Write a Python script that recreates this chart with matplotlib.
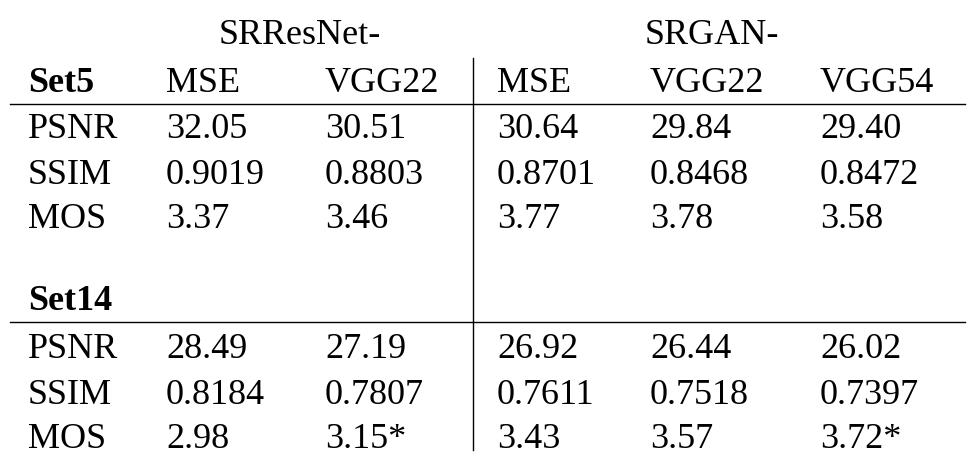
import matplotlib
matplotlib.use("Agg")
import matplotlib.pyplot as plt

groups = ["SRResNet-", "SRGAN-"]
columns = ["MSE", "VGG22", "MSE", "VGG22", "VGG54"]
metrics = ["PSNR", "SSIM", "MOS"]
set5 = [["32.05", "30.51", "30.64", "29.84", "29.40"],
        ["0.9019", "0.8803", "0.8701", "0.8468", "0.8472"],
        ["3.37", "3.46", "3.77", "3.78", "3.58"]]
set14 = [["28.49", "27.19", "26.92", "26.44", "26.02"],
         ["0.8184", "0.7807", "0.7611", "0.7518", "0.7397"],
         ["2.98", "3.15*", "3.43", "3.57", "3.72*"]]

plt.rcParams['font.family'] = ['Liberation Serif', 'DejaVu Serif']
fig = plt.figure(figsize=(9.74, 4.62), dpi=100)
ax = fig.add_axes([0, 0, 1, 1])
ax.set_xlim(0, 974); ax.set_ylim(462, 0); ax.axis('off')
fs = 26
colx = [166, 325, 497, 650, 820]
labx = 28
ax.text(300, 36, groups[0], fontsize=fs, ha='center', va='center')
ax.text(712, 36, groups[1], fontsize=fs, ha='center', va='center')
ax.text(labx, 83, "Set5", fontsize=fs, fontweight='bold', va='center')
for x, c in zip(colx, columns):
    ax.text(x, 83, c, fontsize=fs, va='center')
ax.plot([10, 965], [104, 104], color='black', lw=1)
for i, m in enumerate(metrics):
    y = 130 + i * 45
    ax.text(labx, y, m, fontsize=fs, va='center')
    for x, v in zip(colx, set5[i]):
        ax.text(x, y, v, fontsize=fs, va='center')
ax.text(labx, 301, "Set14", fontsize=fs, fontweight='bold', va='center')
ax.plot([10, 965], [322, 322], color='black', lw=1)
for i, m in enumerate(metrics):
    y = 350 + i * 45
    ax.text(labx, y, m, fontsize=fs, va='center')
    for x, v in zip(colx, set14[i]):
        ax.text(x, y, v, fontsize=fs, va='center')
ax.plot([473, 473], [58, 450], color='black', lw=1)
fig.savefig("out.png", dpi=100, facecolor='white')
